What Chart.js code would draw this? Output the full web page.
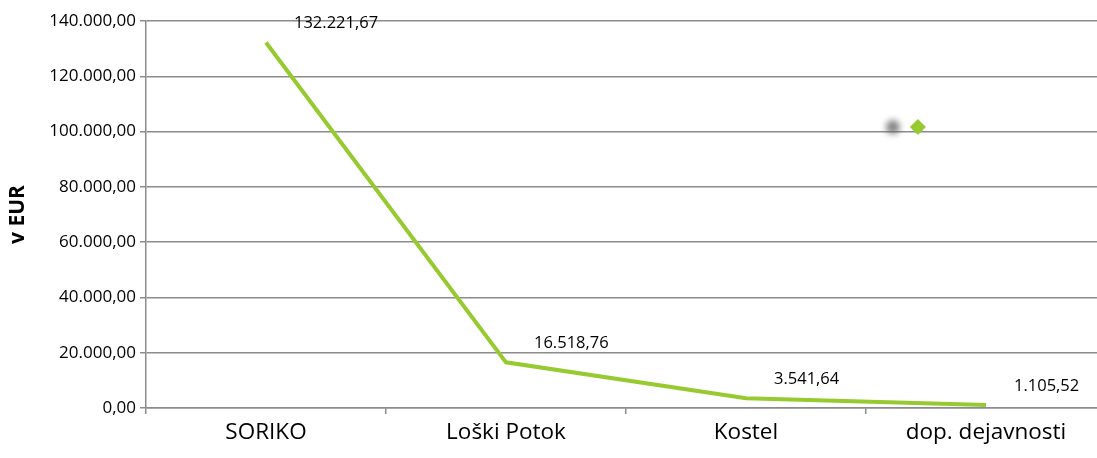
<!DOCTYPE html>
<html>
<head>
<meta charset="utf-8">
<script src="https://cdn.jsdelivr.net/npm/chart.js@4"></script>
<style>
  html, body { margin: 0; padding: 0; background: #fff; overflow: hidden; }
  #wrap { position: absolute; left: 0; top: 0; width: 1108px; height: 458px; }
</style>
</head>
<body>
<div id="wrap"><canvas id="lineChart"></canvas></div>
<script>
// --- podatki ---
const categories = ['SORIKO', 'Loški Potok', 'Kostel', 'dop. dejavnosti'];
const values = [132221.67, 16518.76, 3541.64, 1105.52];
const yTitle = 'v EUR';
const yMin = 0, yMax = 140000, yStep = 20000;

const GREEN = '#97c931';
const GRID = '#8c8c8c';
const FONT = "'Open Sans', 'Liberation Sans', sans-serif";

// slovenski zapis števil: 132.221,67
function fmt(v) {
    const parts = Math.abs(v).toFixed(2).split('.');
    const int = parts[0].replace(/\B(?=(\d{3})+(?!\d))/g, '.');
    return (v < 0 ? '-' : '') + int + ',' + parts[1];
}

// oznake vrednosti desno nad točkami
const valueLabels = {
    id: 'valueLabels',
    afterDatasetsDraw(chart) {
        const ctx = chart.ctx;
        const meta = chart.getDatasetMeta(0);
        ctx.save();
        ctx.font = '16.5px ' + FONT;
        ctx.fillStyle = '#000';
        ctx.textAlign = 'left';
        ctx.textBaseline = 'middle';
        meta.data.forEach((pt, i) => {
            ctx.fillText(fmt(values[i]), pt.x + 28, pt.y - 19);
        });
        ctx.restore();
    }
};

// legenda brez besedila (siva pika + zelen romb)
const emptyLegend = {
    id: 'emptyLegend',
    afterDraw(chart) {
        const a = chart.chartArea;
        const ctx = chart.ctx;
        const x = a.left + (a.right - a.left) * 0.778;
        const y = a.top + (a.bottom - a.top) * 0.274;
        ctx.save();
        ctx.filter = 'blur(3px)';
        ctx.fillStyle = 'rgba(100,100,100,0.8)';
        ctx.beginPath();
        ctx.arc(x, y, 7, 0, Math.PI * 2);
        ctx.fill();
        ctx.restore();
        ctx.save();
        ctx.fillStyle = GREEN;
        ctx.beginPath();
        const dx = x + 25, r = 8;
        ctx.moveTo(dx, y - r);
        ctx.lineTo(dx + r, y);
        ctx.lineTo(dx, y + r);
        ctx.lineTo(dx - r, y);
        ctx.closePath();
        ctx.fill();
        ctx.restore();
    }
};

new Chart(document.getElementById('lineChart'), {
    type: 'line',
    data: {
        labels: categories,
        datasets: [{
            data: values,
            borderColor: GREEN,
            backgroundColor: GREEN,
            borderWidth: 4,
            pointRadius: 0,
            tension: 0
        }]
    },
    options: {
        responsive: true,
        maintainAspectRatio: false,
        animation: false,
        layout: { padding: { top: 21, right: 2, left: 0, bottom: 0 } },
        plugins: {
            legend: { display: false },
            tooltip: { enabled: false }
        },
        scales: {
            x: {
                offset: true,
                grid: {
                    offset: true,
                    drawOnChartArea: false,
                    drawTicks: true,
                    tickLength: 6,
                    color: GRID,
                    lineWidth: 1.5
                },
                border: { display: true, color: GRID, width: 1.5 },
                ticks: {
                    color: '#000',
                    font: { family: FONT, size: 22.5 },
                    padding: 5,
                    maxRotation: 0
                },
                afterFit(s) { s.height = 50; }
            },
            y: {
                min: yMin,
                max: yMax,
                ticks: {
                    stepSize: yStep,
                    color: '#000',
                    font: { family: FONT, size: 17 },
                    padding: 4,
                    callback: v => fmt(v)
                },
                grid: {
                    color: GRID,
                    lineWidth: 1.5,
                    tickLength: 6
                },
                border: { display: true, color: GRID, width: 1.5 },
                title: {
                    display: true,
                    text: yTitle,
                    color: '#000',
                    font: { family: FONT, size: 21, weight: 'bold' },
                    padding: { top: 5, bottom: 4 }
                },
                afterFit(s) { s.width = 146; }
            }
        }
    },
    plugins: [valueLabels, emptyLegend]
});
</script>
</body>
</html>
